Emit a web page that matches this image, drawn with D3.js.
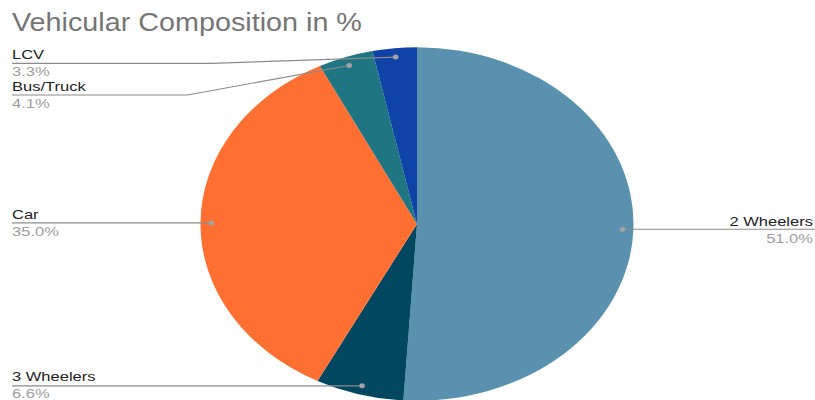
<!DOCTYPE html>
<html>
<head>
<meta charset="utf-8">
<script src="https://cdn.jsdelivr.net/npm/d3@7"></script>
<style>
  body { margin: 0; background: #fff; }
  text { font-family: "Liberation Sans", Arial, sans-serif; }
</style>
</head>
<body>
<script>
// data, clockwise from 12 o'clock
const categories = ['2 Wheelers', '3 Wheelers', 'Car', 'Bus/Truck', 'LCV'];
const shares = [51.0, 6.6, 35.0, 4.1, 3.3];
const colors = ['#5991ae', '#00475f', '#ff6f31', '#1f7581', '#1043a8'];

const width = 815, height = 400;
const cx = 417, cy = 224;
const rx = 216.5, ry = 176.7;     // the picture is stretched sideways
const sx = rx / ry;

const svg = d3.select('body').append('svg')
  .attr('width', width)
  .attr('height', height);

svg.append('rect').attr('width', width).attr('height', height).attr('fill', '#fff');

svg.append('text')
  .attr('transform', 'translate(12,30.5) scale(1.15,1)')
  .attr('font-size', 25)
  .attr('fill', '#757575')
  .text('Vehicular Composition in %');

const data = categories.map((c, i) => ({ name: c, value: shares[i], color: colors[i] }));

const pie = d3.pie().sort(null).value(d => d.value);
const arcs = pie(data);

const arc = d3.arc().innerRadius(0).outerRadius(ry);

const pieG = svg.append('g')
  .attr('transform', `translate(${cx},${cy}) scale(${sx},1)`);

pieG.selectAll('path')
  .data(arcs)
  .join('path')
  .attr('d', arc)
  .attr('fill', d => d.data.color);

// dot position on each slice (page coords)
const dotArc = d3.arc().innerRadius(ry * 0.95).outerRadius(ry * 0.95);
arcs.forEach(a => {
  const [x, y] = dotArc.centroid(a);
  a.dx = cx + x * sx;
  a.dy = cy + y;
  a.side = (a.startAngle + a.endAngle) / 2 < Math.PI ? 'right' : 'left';
});

// place left labels top to bottom, keeping them apart
const left = arcs.filter(a => a.side === 'left').sort((a, b) => a.dy - b.dy);
let prev = -Infinity;
left.forEach(a => {
  a.ly = Math.max(a.dy, prev + 31.7, 63.3);
  prev = a.ly;
});
arcs.filter(a => a.side === 'right').forEach(a => { a.ly = a.dy; });

const lineColor = '#8c8c8c';
const labels = svg.append('g');

arcs.forEach(a => {
  if (a.side === 'left') {
    const elbow = Math.min(12 + (a.dx - 12) * 0.52, a.dx);
    labels.append('path')
      .attr('d', d3.line()([[12, a.ly], [elbow, a.ly], [a.dx, a.dy]]))
      .attr('fill', 'none')
      .attr('stroke', lineColor)
      .attr('stroke-width', 1.2);
    labels.append('text')
      .attr('transform', `translate(12,${a.ly - 4.3}) scale(${sx},1)`)
      .attr('font-size', 13.5)
      .attr('fill', '#222')
      .text(a.data.name);
    labels.append('text')
      .attr('transform', `translate(12,${a.ly + 12.7}) scale(${sx},1)`)
      .attr('font-size', 13.5)
      .attr('fill', '#9e9e9e')
      .text(d3.format('.1f')(a.data.value) + '%');
  } else {
    labels.append('path')
      .attr('d', d3.line()([[a.dx, a.dy], [width + 10, a.ly]]))
      .attr('fill', 'none')
      .attr('stroke', lineColor)
      .attr('stroke-width', 1.2);
    labels.append('text')
      .attr('transform', `translate(813,${a.ly - 3.5}) scale(${sx},1)`)
      .attr('font-size', 13.5)
      .attr('text-anchor', 'end')
      .attr('fill', '#222')
      .text(a.data.name);
    labels.append('text')
      .attr('transform', `translate(813,${a.ly + 13.5}) scale(${sx},1)`)
      .attr('font-size', 13.5)
      .attr('text-anchor', 'end')
      .attr('fill', '#9e9e9e')
      .text(d3.format('.1f')(a.data.value) + '%');
  }
  labels.append('ellipse')
    .attr('cx', a.dx).attr('cy', a.dy)
    .attr('rx', 2.8).attr('ry', 2.5)
    .attr('fill', '#a3a3a3');
});
</script>
</body>
</html>
